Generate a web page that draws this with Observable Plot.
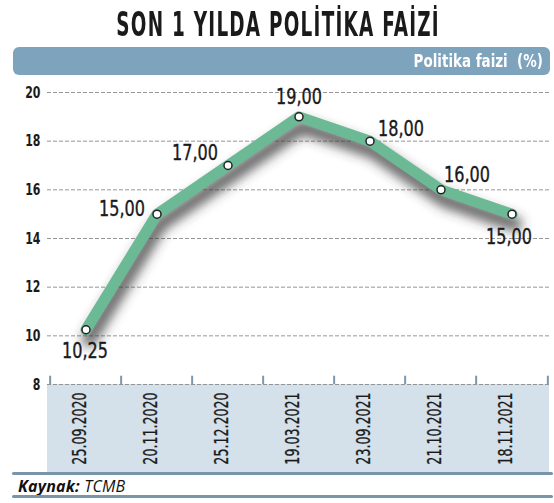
<!DOCTYPE html>
<html><head><meta charset="utf-8">
<script src="https://cdn.jsdelivr.net/npm/d3@7"></script>
<script src="https://cdn.jsdelivr.net/npm/@observablehq/plot@0.6"></script>
<style>
body{margin:0;background:#fff;width:554px;height:503px;overflow:hidden;position:relative;font-family:"DejaVu Sans Condensed","DejaVu Sans",sans-serif;}
#title{position:absolute;left:0;top:5px;width:554px;text-align:center;font-weight:bold;font-size:33px;color:#1a1a1a;letter-spacing:2px;transform:scaleX(0.62);transform-origin:280px 0;white-space:nowrap;}
#bar{position:absolute;left:13px;top:47px;width:537px;height:28px;background:#7ea3bd;border-radius:6px;}
#bar span{position:absolute;right:7px;top:4px;color:#fff;font-weight:bold;font-size:17px;white-space:pre;transform:scaleX(0.88);transform-origin:right center;}
#band{position:absolute;left:47px;top:384px;width:502px;height:88px;background:#d5e1ea;}
#chart{position:absolute;left:0;top:75px;}
.hl{position:absolute;left:12px;width:541px;height:3px;background:#7895aa;border-radius:2px;}
#src{position:absolute;left:18px;top:475px;font-family:"Open Sans",sans-serif;font-style:italic;font-size:16px;letter-spacing:0.2px;color:#111;}
</style></head><body>
<div id="title">SON 1 YILDA POLİTİKA FAİZİ</div>
<div id="bar"><span>Politika faizi  (%)</span></div>
<div id="band"></div>
<div id="chart"></div>
<div class="hl" style="top:472px"></div>
<div id="src"><b>Kaynak:</b> TCMB</div>
<div class="hl" style="top:495px"></div>
<script>
const dates = ["25.09.2020","20.11.2020","25.12.2020","19.03.2021","23.09.2021","21.10.2021","18.11.2021"];
const rates = [10.25, 15, 17, 19, 18, 16, 15];
const rateLabels = ["10,25","15,00","17,00","19,00","18,00","16,00","15,00"];
const yTicks = [8, 10, 12, 14, 16, 18, 20];

const data = dates.map((d, i) => ({date: d, rate: rates[i], label: rateLabels[i], i}));

const W = 554, H = 397, ML = 47, MR = 5;
const bw = (W - ML - MR) / dates.length;
const font = "'DejaVu Sans Condensed','DejaVu Sans',sans-serif";

// label placement per point (style only)
const place = [
  {dx: -1, dy: 22, anchor: "middle"},
  {dx: -12, dy: -5, anchor: "end"},
  {dx: -10, dy: -12, anchor: "end"},
  {dx: 0, dy: -19, anchor: "middle"},
  {dx: 8, dy: -12, anchor: "start"},
  {dx: 3, dy: -14, anchor: "start"},
  {dx: -3, dy: 23, anchor: "middle"}
];

const labelMarks = place.map((p, k) => Plot.text(data.filter(d => d.i === k), {
  x: "date", y: "rate", text: "label", dx: p.dx, dy: p.dy, textAnchor: p.anchor,
  fontSize: 20.5, fill: "#1a1a1a", stroke: "#1a1a1a", strokeWidth: 0.35
}));

const chart = Plot.plot({
  width: W, height: H,
  marginLeft: ML, marginRight: MR, marginTop: 17, marginBottom: 88,
  style: {background: "transparent", fontFamily: font, overflow: "visible"},
  x: {type: "band", domain: dates, padding: 0, axis: null},
  y: {domain: [8, 20], axis: null},
  marks: [
    Plot.ruleY(yTicks, {stroke: "#8a8a8a", strokeDasharray: "4,2", strokeWidth: 0.9}),
    Plot.text(yTicks, {y: d => d, text: d => String(d), frameAnchor: "left", dx: -7, textAnchor: "end",
      fontSize: 16.5, fontWeight: "bold", fill: "#1a1a1a"}),
    Plot.ruleX(dates, {x: d => d, dx: -bw / 2, y1: 8, y2: 8.34, stroke: "#7b98ad", strokeWidth: 2}),
    Plot.ruleX(dates.slice(-1), {x: d => d, dx: bw / 2, y1: 8, y2: 8.34, stroke: "#7b98ad", strokeWidth: 2}),
    Plot.text(dates, {x: d => d, text: d => d, frameAnchor: "bottom", dy: 44, rotate: -90,
      fontSize: 19.5, fill: "#1a1a1a", stroke: "#1a1a1a", strokeWidth: 0.3}),
    Plot.line(data, {x: "date", y: "rate", stroke: "#3a3a3a", strokeWidth: 14, strokeOpacity: 0.8,
      dx: 3, dy: 10, strokeLinejoin: "round"}),
    Plot.line(data, {x: "date", y: "rate", stroke: "#6cb996", strokeWidth: 11, strokeLinejoin: "round"}),
    Plot.dot(data, {x: "date", y: "rate", r: 4, fill: "white", stroke: "#222", strokeWidth: 1.5}),
    ...labelMarks
  ]
});

const ns = "http://www.w3.org/2000/svg";
const defs = document.createElementNS(ns, "defs");
defs.innerHTML = '<filter id="sh" x="-20%" y="-30%" width="140%" height="160%"><feGaussianBlur stdDeviation="6"/></filter>';
chart.insertBefore(defs, chart.firstChild);
const lines = chart.querySelectorAll('g[aria-label="line"]');
if (lines.length) lines[0].setAttribute("filter", "url(#sh)");

// horizontally condense text (narrow typeface look)
function condense(g, s) {
  g.querySelectorAll("text").forEach(t => {
    const tr = t.getAttribute("transform") || "";
    t.setAttribute("transform", `${tr} scale(${s},1)`);
  });
}
const tg = chart.querySelectorAll('g[aria-label="text"]');
tg.forEach((g, k) => condense(g, k === 0 ? 0.74 : k === 1 ? 0.72 : 0.87));

document.getElementById("chart").appendChild(chart);
</script>
</body></html>
